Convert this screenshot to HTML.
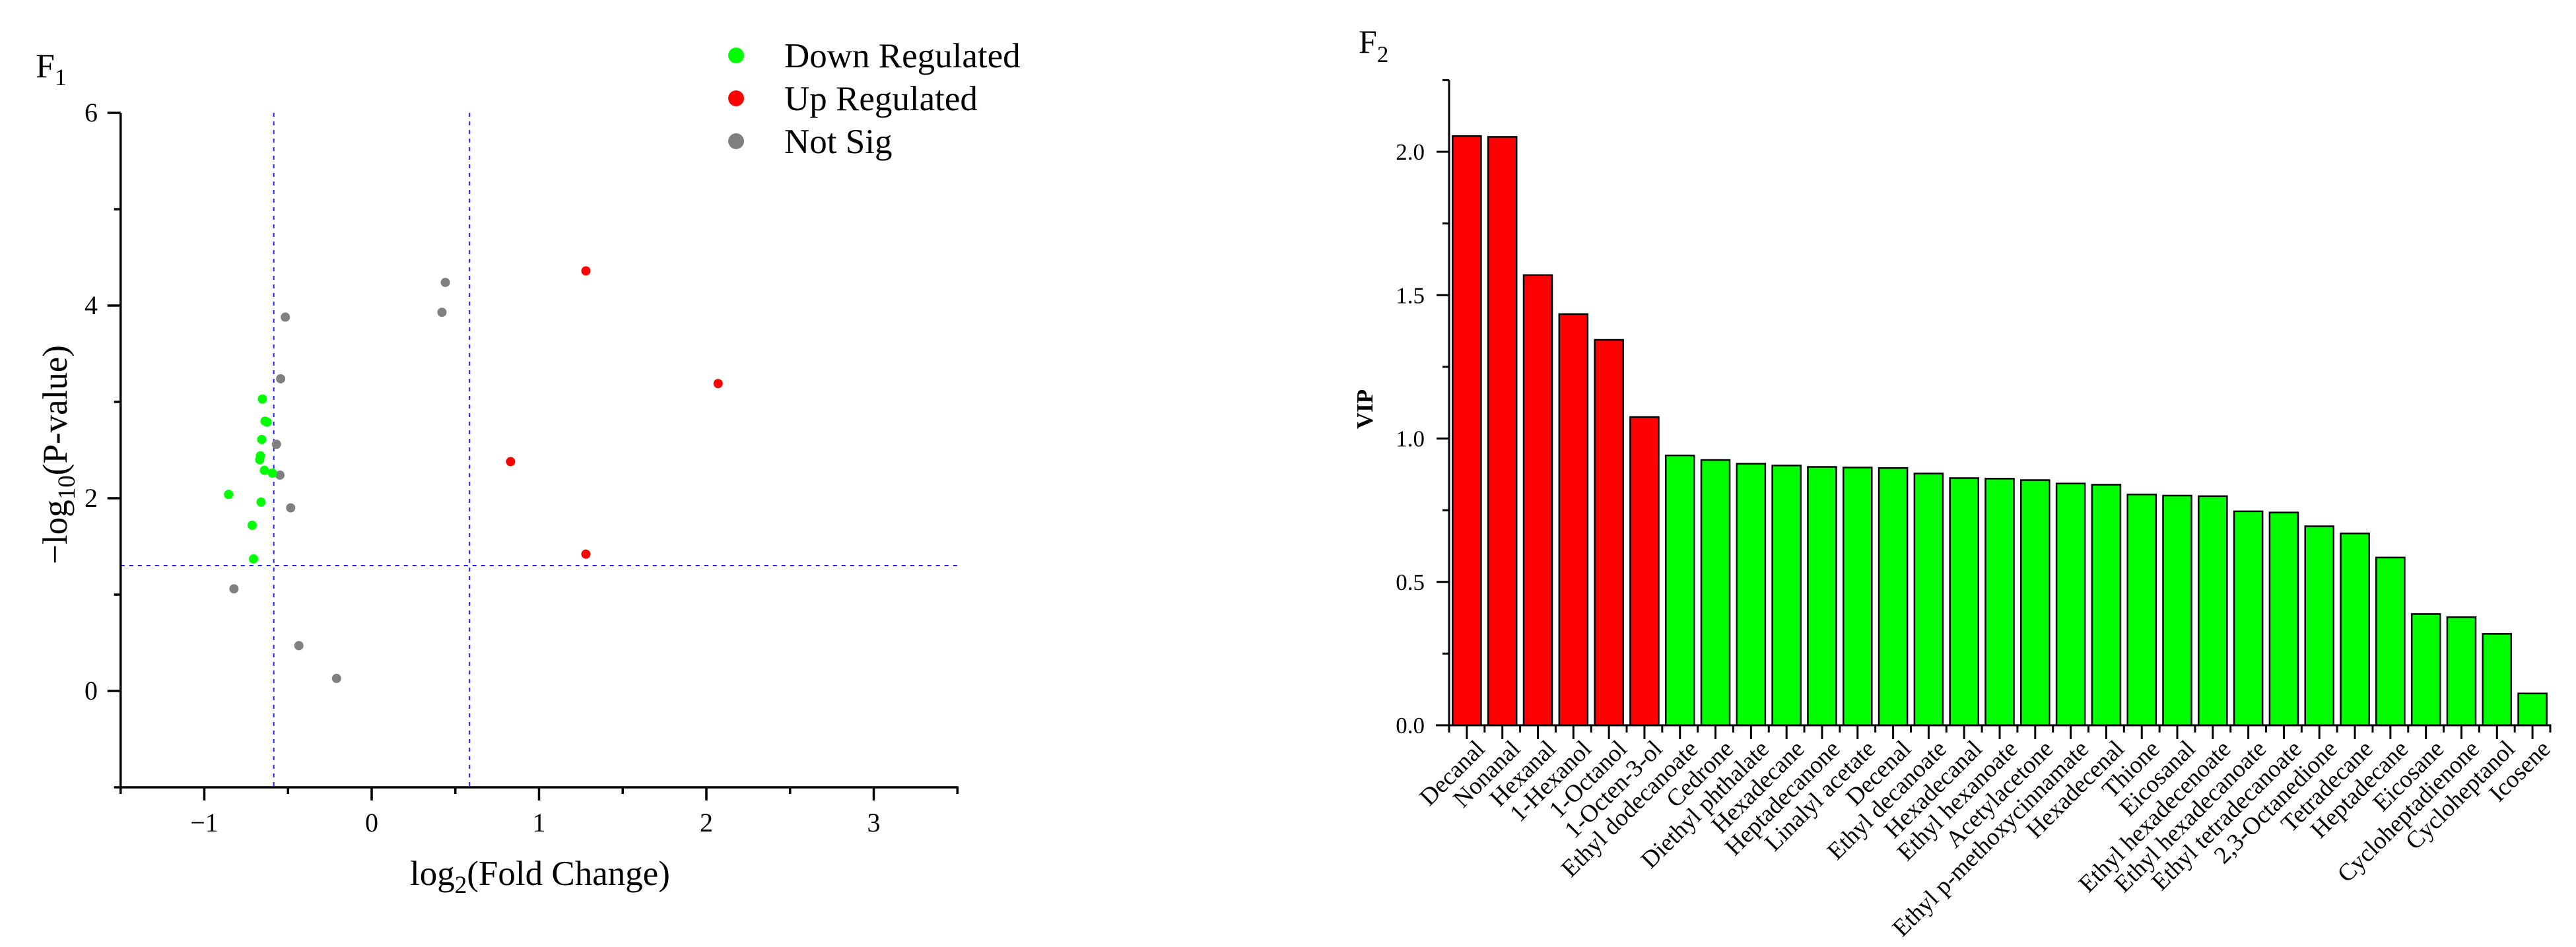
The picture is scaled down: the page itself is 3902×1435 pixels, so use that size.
<!DOCTYPE html>
<html><head><meta charset="utf-8"><style>
html,body{margin:0;padding:0;background:#fff}
svg, svg text{font-family:"Liberation Serif","DejaVu Serif",serif}
</style></head><body>
<svg id="root" width="3902" height="1430" viewBox="0 0 3902 1430" xmlns="http://www.w3.org/2000/svg" font-family="Liberation Serif, DejaVu Serif, serif">
<g id="volcano" font-family="Liberation Serif, serif"></g>
<g id="vip" font-family="Liberation Serif, serif"></g>
</svg>
<script>
// ---- Volcano data ----
const downX = [-0.653,-0.637,-0.625,-0.657,-0.665,-0.669,-0.641,-0.593,-0.855,-0.661,-0.714,-0.706];
const downY = [3.03,2.80,2.79,2.61,2.44,2.40,2.29,2.26,2.04,1.96,1.72,1.37];
const upX = [1.28,2.07,0.83,1.28];
const upY = [4.36,3.19,2.38,1.42];
const nsX = [0.44,0.42,-0.516,-0.544,-0.569,-0.548,-0.484,-0.823,-0.435,-0.21];
const nsY = [4.24,3.93,3.88,3.24,2.56,2.24,1.90,1.06,0.47,0.13];
const xMajor = [-1,0,1,2,3];
const xMinor = [-1.5,-0.5,0.5,1.5,2.5,3.5];
const yMajor = [0,2,4,6];
const yMinor = [-1,1,3,5];
const fcThresh = [-0.585,0.585];
const pThresh = 1.301;

// ---- VIP data ----
const vipNames = ["Decanal","Nonanal","Hexanal","1-Hexanol","1-Octanol","1-Octen-3-ol","Ethyl dodecanoate","Cedrone","Diethyl phthalate","Hexadecane","Heptadecanone","Linalyl acetate","Decenal","Ethyl decanoate","Hexadecanal","Ethyl hexanoate","Acetylacetone","Ethyl p-methoxycinnamate","Hexadecenal","Thione","Eicosanal","Ethyl hexadecenoate","Ethyl hexadecanoate","Ethyl tetradecanoate","2,3-Octanedione","Tetradecane","Heptadecane","Eicosane","Cycloheptadienone","Cycloheptanol","Icosene"];
const vipValues = [2.055,2.052,1.570,1.434,1.344,1.075,0.941,0.925,0.912,0.906,0.901,0.899,0.897,0.878,0.862,0.860,0.855,0.843,0.839,0.805,0.801,0.799,0.746,0.742,0.694,0.669,0.585,0.388,0.377,0.319,0.111];
const vipTicks = [0,0.5,1.0,1.5,2.0];
const vipTickLabels = ["0.0","0.5","1.0","1.5","2.0"];
const vipMinor = [0.25,0.75,1.25,1.75,2.25];

const NS="http://www.w3.org/2000/svg";
const FF="Liberation Serif, DejaVu Serif, serif";
function mk(parent,tag,attrs,text){const e=document.createElementNS(NS,tag);for(const k in attrs)e.setAttribute(k,attrs[k]);if(tag==='text')e.setAttribute('font-family',FF);if(text!==undefined)e.textContent=text;parent.appendChild(e);return e;}

// ===== Volcano =====
const V=document.getElementById('volcano');
const vx=v=>563+v*253.5, vy=v=>1047-v*146;
const X0=vx(-1.5), X1=vx(3.5), Y0=vy(-1), Y1=vy(6);
let e;
fcThresh.forEach(t=>{e=mk(V,'line',{x1:vx(t),x2:vx(t),y1:Y1,y2:Y0,stroke:'#2020ff','stroke-width':2,'stroke-dasharray':'6 7'});

});
e=mk(V,'line',{x1:X0,x2:X1,y1:vy(pThresh),y2:vy(pThresh),stroke:'#2020ff','stroke-width':2,'stroke-dasharray':'6 7'});


e=mk(V,'line',{x1:X0,x2:X0,y1:Y1,y2:Y0+1.5,stroke:'#000','stroke-width':3.5});


e=mk(V,'line',{x1:X0-1.5,x2:X1+1.5,y1:Y0,y2:Y0,stroke:'#000','stroke-width':3.5});


xMajor.forEach(t=>{mk(V,'line',{x1:vx(t),x2:vx(t),y1:Y0,y2:Y0+20,stroke:'#000','stroke-width':3.5});
e=mk(V,'text',{x:vx(t),y:1260,'font-size':40,'text-anchor':'middle'},t<0?'\u2212'+Math.abs(t):String(t));

});
xMinor.forEach(t=>mk(V,'line',{x1:vx(t),x2:vx(t),y1:Y0,y2:Y0+10,stroke:'#000','stroke-width':3.5}));
yMajor.forEach(t=>{mk(V,'line',{x1:X0,x2:X0-20,y1:vy(t),y2:vy(t),stroke:'#000','stroke-width':3.5});
e=mk(V,'text',{x:148,y:vy(t)+13,'font-size':40,'text-anchor':'end'},String(t));

});
yMinor.forEach(t=>mk(V,'line',{x1:X0,x2:X0-10,y1:vy(t),y2:vy(t),stroke:'#000','stroke-width':3.5}));
function pts(xs,ys,col,name){xs.forEach((x,i)=>{e=mk(V,'circle',{cx:vx(x),cy:vy(ys[i]),r:7,fill:col});

});}
pts(nsX,nsY,'#808080','not-sig-point');
pts(downX,downY,'#00ff00','down-regulated-point');
pts(upX,upY,'#ff0000','up-regulated-point');
const legCols=['#00ff00','#ff0000','#808080'], legLabels=['Down Regulated','Up Regulated','Not Sig'], legY=[84,149,214];
legLabels.forEach((l,i)=>{const g=mk(V,'g',{});


mk(g,'circle',{cx:1115,cy:legY[i],r:12,fill:legCols[i]});
mk(g,'text',{x:1188,y:legY[i]+18,'font-size':53},l);});
e=mk(V,'text',{x:54,y:117,'font-size':52});
e.innerHTML='F<tspan font-size="36" dy="12">1</tspan>';


e=mk(V,'text',{x:0,y:0,'font-size':53,'text-anchor':'middle',transform:'translate(101,689) rotate(-90)'});
e.innerHTML='\u2212log<tspan font-size="37" dy="12">10</tspan><tspan dy="-12">(P-value)</tspan>';


e=mk(V,'text',{x:818,y:1341,'font-size':53,'text-anchor':'middle'});
e.innerHTML='log<tspan font-size="37" dy="12">2</tspan><tspan dy="-12">(Fold Change)</tspan>';



// ===== VIP bars =====
const B=document.getElementById('vip');
const bx0=2195, bx1=3863, band=(bx1-bx0)/vipNames.length;
const by=v=>1099-v*434.5;
vipValues.forEach((v,i)=>{const w=band*0.8, x=bx0+i*band+(band-w)/2;
e=mk(B,'rect',{x:x,y:by(v),width:w,height:by(0)-by(v),fill:i<6?'#ff0000':'#00ff00',stroke:'#000','stroke-width':2.5});


const cx=bx0+(i+0.5)*band;
mk(B,'line',{x1:cx,x2:cx,y1:by(0),y2:by(0)+21,stroke:'#000','stroke-width':3});
e=mk(B,'text',{x:0,y:0,'font-size':37,'text-anchor':'end',transform:`translate(${cx+29},1137) rotate(-45)`},vipNames[i]);

});
for(let i=0;i<=vipNames.length;i++){const xx=bx0+i*band;mk(B,'line',{x1:xx,x2:xx,y1:by(0),y2:by(0)+11,stroke:'#000','stroke-width':3});}
e=mk(B,'line',{x1:bx0,x2:bx0,y1:by(2.25),y2:by(0)+1.5,stroke:'#000','stroke-width':3});


e=mk(B,'line',{x1:bx0-20,x2:bx1+1.5,y1:by(0),y2:by(0),stroke:'#000','stroke-width':3});


vipTicks.forEach((t,i)=>{mk(B,'line',{x1:bx0,x2:bx0-19,y1:by(t),y2:by(t),stroke:'#000','stroke-width':3});
e=mk(B,'text',{x:2158,y:by(t)+12,'font-size':35,'text-anchor':'end'},vipTickLabels[i]);

});
vipMinor.forEach(t=>mk(B,'line',{x1:bx0,x2:bx0-10,y1:by(t),y2:by(t),stroke:'#000','stroke-width':3}));
e=mk(B,'text',{x:0,y:0,'font-size':35,'font-weight':'bold','text-anchor':'middle',transform:'translate(2079,620) rotate(-90)'},'VIP');


e=mk(B,'text',{x:2058,y:80,'font-size':50});
e.innerHTML='F<tspan font-size="35" dy="14">2</tspan>';


</script>
</body></html>
